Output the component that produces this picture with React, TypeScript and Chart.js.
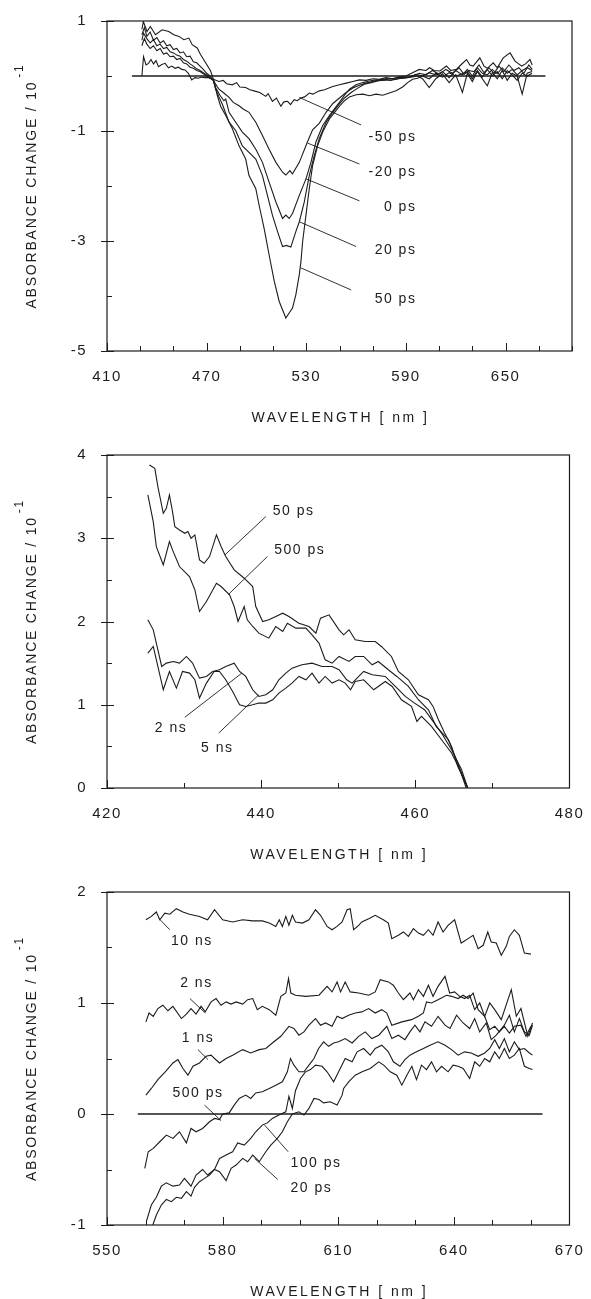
import React, { useEffect, useRef } from "react";
import { Chart, registerables } from "chart.js";

Chart.register(...registerables);

type Pt = [number, number];

// ---------------- Panel 1 : 410-690 nm, absorbance change / 10^-1 ----------------
const P1_X_LABELS = [410, 470, 530, 590, 650];
const P1_Y_LABELS = [1, -1, -3, -5];
const P1_BASELINE: Pt[] = [[425, 0], [674, 0]];

const P1_50PS: Pt[] = [
  [431, 0.85], [431.9, 0.99], [434.1, 0.81], [436.1, 0.9], [439.2, 0.75], [443.2, 0.84], [447.2, 0.81], [450.2, 0.75],
  [453.3, 0.72], [456.3, 0.66], [459.3, 0.69], [461.3, 0.57], [464.3, 0.51], [466.3, 0.39], [469.4, 0.24], [472.4, 0.09],
  [474.4, -0.09], [476.4, -0.35], [478.4, -0.55], [481.5, -0.72], [485.5, -0.96], [489.5, -1.27], [493.5, -1.51],
  [495.5, -1.81], [499.6, -2.05], [501.6, -2.35], [504.6, -2.77], [507.6, -3.25], [510.7, -3.73], [513.7, -4.1],
  [515.7, -4.25], [517.7, -4.4], [519.7, -4.31], [521.7, -4.22], [523.7, -3.98], [525.8, -3.61], [526.8, -3.37],
  [527.8, -3.01], [529.8, -2.53], [531.8, -2.05], [533.8, -1.63], [536.8, -1.27], [539.9, -1.02], [543.9, -0.78],
  [547.9, -0.63], [550, -0.55], [553, -0.45], [556, -0.38], [560, -0.34], [564, -0.33], [568, -0.36], [572, -0.33],
  [576, -0.35], [580, -0.31], [584, -0.27], [588, -0.2], [591, -0.12], [594, -0.06], [597, -0.04], [600, 0.0],
  [604, -0.05], [608, 0.05], [612, -0.02], [616, 0.06], [620, 0.0], [624, 0.04], [627, 0.08], [630, -0.05],
  [633, 0.1], [636, -0.02], [639, 0.12], [642, 0.0], [645, 0.08], [648, -0.05], [651, 0.1], [654, 0.02],
  [657, -0.08], [660, 0.05], [663, 0.0], [666, 0.05],
];

const P1_20PS: Pt[] = [
  [431, 0.75], [432.5, 0.88], [434, 0.72], [436, 0.8], [438, 0.65], [440, 0.7], [442, 0.6], [444, 0.64], [446, 0.55],
  [448, 0.57], [450, 0.48], [452, 0.5], [454, 0.42], [456, 0.44], [458, 0.35], [460, 0.36], [462, 0.26], [464, 0.24],
  [466, 0.18], [468, 0.12], [470, 0.05], [472, 0.0], [474, -0.08], [475.4, -0.24], [477.4, -0.38], [479.4, -0.51],
  [483.5, -0.84], [487.5, -0.99], [491.5, -1.27], [495.5, -1.39], [499.6, -1.51], [503.6, -1.81], [506.6, -2.17],
  [509.6, -2.53], [512.7, -2.83], [515.7, -3.1], [518, -3.08], [520.7, -3.11], [523.7, -2.83], [525.8, -2.65],
  [528.8, -2.29], [531.8, -1.81], [534.8, -1.45], [537.8, -1.14], [541.9, -0.84], [545.9, -0.66], [549.9, -0.51],
  [553, -0.4], [557, -0.3], [561, -0.22], [565, -0.15], [569, -0.12], [573, -0.09], [577, -0.07], [581, -0.08],
  [585, -0.05], [589, -0.04], [593, -0.02], [597, 0.0], [600, -0.05], [604, -0.21], [608, -0.05], [612, 0.04],
  [616, -0.12], [620, 0.02], [624, -0.3], [627, 0.05], [630, -0.1], [633, 0.08], [636, -0.05], [639, -0.18],
  [642, 0.06], [645, -0.05], [648, 0.1], [651, -0.08], [654, 0.05], [657, 0.0], [660, -0.33], [663, 0.05], [666, 0.08],
];

const P1_0PS: Pt[] = [
  [431, 0.65], [432, 0.78], [434, 0.68], [436, 0.6], [438, 0.66], [440, 0.55], [442, 0.58], [444, 0.5], [446, 0.52],
  [448, 0.44], [450, 0.42], [452, 0.38], [454, 0.36], [456, 0.3], [458, 0.27], [460, 0.22], [462, 0.18], [464, 0.13],
  [466, 0.1], [468, 0.06], [470, 0.02], [472, -0.03], [474, -0.08], [475.4, -0.21], [478, -0.35], [480.4, -0.45],
  [481.5, -0.42], [483.5, -0.66], [487.5, -0.84], [491.5, -1.02], [495.5, -1.14], [499.6, -1.33], [503.6, -1.57],
  [507.6, -1.93], [511.7, -2.29], [515.7, -2.59], [517.7, -2.53], [519.7, -2.59], [521.7, -2.5], [525.8, -2.17],
  [529.8, -1.87], [532.8, -1.57], [535.8, -1.2], [539.9, -0.9], [543.9, -0.72], [549.9, -0.48], [553, -0.35],
  [556, -0.24], [560, -0.16], [564, -0.12], [568, -0.09], [572, -0.07], [576, -0.08], [580, -0.05], [584, -0.06],
  [588, -0.03], [592, -0.02], [596, 0.03], [600, 0.0], [604, 0.06], [608, 0.02], [612, 0.08], [616, -0.03],
  [620, 0.1], [624, 0.02], [627, 0.12], [630, 0.0], [633, 0.15], [636, 0.05], [639, 0.02], [642, 0.12], [645, 0.04],
  [648, 0.15], [651, 0.05], [654, 0.12], [657, 0.02], [660, 0.1], [663, 0.15], [666, 0.1],
];

const P1_M20PS: Pt[] = [
  [431, 0.55], [432.5, 0.68], [434, 0.58], [436, 0.5], [438, 0.55], [440, 0.46], [442, 0.5], [444, 0.4], [446, 0.42],
  [448, 0.35], [450, 0.36], [452, 0.3], [454, 0.32], [456, 0.24], [458, 0.22], [460, 0.16], [462, 0.14], [464, 0.1],
  [466, 0.08], [468, 0.04], [470, 0.0], [472, -0.04], [474, -0.08], [477.4, -0.24], [480, -0.3], [483.5, -0.39],
  [486, -0.48], [489.5, -0.54], [492, -0.6], [495.5, -0.66], [499.6, -0.84], [503.6, -1.08], [507.6, -1.33],
  [511.7, -1.57], [515.7, -1.75], [517.7, -1.8], [520.1, -1.72], [521.7, -1.78], [525.8, -1.57], [530.8, -1.19],
  [533.8, -0.98], [537.8, -0.86], [541.9, -0.66], [546, -0.5], [550, -0.4], [554, -0.3], [558, -0.22], [562, -0.17],
  [566, -0.13], [570, -0.1], [574, -0.07], [578, -0.05], [582, -0.05], [586, -0.02], [590, -0.03], [594, 0.0],
  [598, 0.05], [602, 0.02], [606, 0.1], [610, 0.03], [614, 0.12], [618, 0.05], [622, 0.15], [625, 0.03], [628, 0.1],
  [631, 0.08], [634, 0.2], [637, 0.06], [640, 0.15], [643, 0.05], [646, 0.18], [649, 0.08], [652, 0.2], [655, 0.1],
  [658, 0.15], [661, 0.05], [664, 0.2], [666, 0.12],
];

const P1_M50PS: Pt[] = [
  [431, 0.0], [432, 0.35], [433.5, 0.2], [435, 0.23], [436.5, 0.3], [438, 0.22], [439.5, 0.28], [441, 0.17],
  [443, 0.21], [445, 0.23], [447, 0.15], [449, 0.18], [451, 0.14], [453, 0.16], [455, 0.12], [457, 0.11], [459, 0.05],
  [461, -0.07], [463, -0.03], [465, -0.04], [467, -0.02], [469, -0.03], [471.4, -0.03], [474, -0.06], [477.4, -0.1],
  [480, -0.08], [482, -0.14], [485.5, -0.16], [488, -0.12], [490, -0.2], [493.5, -0.21], [496, -0.25], [499.6, -0.28],
  [502, -0.3], [505.6, -0.37], [507, -0.32], [509.6, -0.46], [512, -0.4], [514.7, -0.55], [516.5, -0.47],
  [518.7, -0.46], [520.5, -0.52], [522.7, -0.43], [524.5, -0.45], [526.8, -0.4], [529, -0.38], [531.8, -0.31],
  [534, -0.33], [537.8, -0.27], [541, -0.25], [545.9, -0.19], [550, -0.16], [554, -0.13], [558, -0.1], [562, -0.07],
  [566, -0.08], [570, -0.05], [574, -0.06], [578, -0.03], [582, -0.05], [586, -0.02], [590, 0.0], [594, 0.06],
  [598, 0.12], [602, 0.1], [604.3, 0.15], [607, 0.1], [610.4, 0.09], [614.4, 0.18], [617, 0.1], [620.4, 0.12],
  [623, 0.2], [626.5, 0.3], [628.5, 0.2], [630.5, 0.18], [634.5, 0.33], [637, 0.18], [639, 0.14], [642.6, 0.24],
  [645, 0.15], [648.6, 0.33], [652.7, 0.42], [655.7, 0.27], [659.7, 0.18], [662, 0.22], [664.7, 0.3], [666, 0.2],
];

// ---------------- Panel 2 : 420-480 nm ----------------
const P2_X_LABELS = [420, 440, 460, 480];
const P2_Y_LABELS = [0, 1, 2, 3, 4];

const P2_50PS: Pt[] = [
  [425.5, 3.88], [426.2, 3.84], [426.6, 3.62], [427.3, 3.3], [427.7, 3.36], [428.1, 3.52], [428.5, 3.32], [428.8, 3.14],
  [429.4, 3.1], [430.1, 3.06], [430.5, 3.08], [430.9, 3.0], [431.4, 3.04], [432.0, 2.74], [432.6, 2.7], [433.3, 2.78],
  [434.2, 3.04], [434.8, 2.9], [435.4, 2.78], [436.5, 2.62], [437.8, 2.52], [438.9, 2.42], [439.3, 2.18], [440.2, 2.0],
  [441.0, 2.02], [441.9, 2.06], [442.8, 2.1], [443.6, 2.06], [444.9, 1.98], [446.2, 1.94], [447.1, 1.86], [447.7, 2.04],
  [448.8, 2.08], [450.1, 1.9], [450.7, 1.84], [451.4, 1.9], [452.2, 1.78], [453.5, 1.76], [454.8, 1.76], [455.6, 1.7],
  [456.9, 1.58], [457.8, 1.4], [459.1, 1.3], [460.4, 1.12], [461.7, 1.06], [462.3, 0.98], [463.0, 0.82], [463.8, 0.66],
  [464.7, 0.5], [465.5, 0.26], [466.8, 0.0],
];

const P2_500PS: Pt[] = [
  [425.3, 3.52], [426.0, 3.2], [426.4, 2.9], [427.3, 2.68], [428.1, 2.96], [428.5, 2.86], [429.4, 2.66], [430.7, 2.54],
  [431.4, 2.38], [432.0, 2.12], [432.9, 2.24], [434.2, 2.46], [434.8, 2.42], [435.9, 2.32], [436.5, 2.18], [437.0, 2.0],
  [437.8, 2.18], [438.2, 2.02], [438.9, 1.94], [439.7, 1.86], [441.0, 1.8], [441.9, 1.94], [442.8, 1.88], [443.4, 1.98],
  [444.5, 1.92], [445.8, 1.92], [446.6, 1.84], [447.5, 1.74], [448.3, 1.54], [449.2, 1.5], [450.1, 1.58], [451.4, 1.52],
  [452.2, 1.58], [453.3, 1.58], [454.4, 1.48], [455.2, 1.52], [456.5, 1.42], [457.6, 1.34], [459.1, 1.22],
  [460.4, 1.06], [461.7, 0.94], [462.7, 0.74], [464.3, 0.58], [465.5, 0.3], [466.6, 0.0],
];

const P2_2NS: Pt[] = [
  [425.3, 2.02], [426.0, 1.9], [426.6, 1.66], [427.1, 1.46], [427.7, 1.5], [428.6, 1.52], [429.4, 1.5], [430.3, 1.58],
  [431.1, 1.5], [432.0, 1.32], [432.9, 1.34], [433.7, 1.4], [434.6, 1.42], [435.4, 1.46], [436.5, 1.5], [437.2, 1.4],
  [438.0, 1.34], [438.9, 1.18], [439.7, 1.1], [440.6, 1.12], [441.5, 1.18], [442.3, 1.3], [443.2, 1.38], [444.0, 1.44],
  [445.3, 1.48], [446.6, 1.5], [447.9, 1.46], [449.2, 1.46], [450.1, 1.42], [451.1, 1.3], [451.8, 1.26], [453.3, 1.4],
  [454.4, 1.36], [456.1, 1.34], [457.4, 1.22], [458.7, 1.1], [459.9, 1.02], [461.2, 0.94], [462.3, 0.8], [463.4, 0.66],
  [464.7, 0.46], [466.0, 0.22], [466.8, 0.0],
];

const P2_5NS: Pt[] = [
  [425.3, 1.62], [426.0, 1.7], [426.6, 1.46], [427.3, 1.18], [428.1, 1.4], [429.0, 1.2], [429.8, 1.4], [430.7, 1.38],
  [431.4, 1.3], [432.0, 1.08], [432.9, 1.26], [433.9, 1.4], [434.6, 1.4], [435.4, 1.3], [436.3, 1.16], [437.2, 1.0],
  [438.0, 0.98], [438.9, 1.0], [439.7, 1.02], [440.6, 1.02], [441.5, 1.06], [442.3, 1.14], [443.2, 1.2], [444.0, 1.26],
  [444.9, 1.34], [445.8, 1.3], [446.6, 1.38], [447.5, 1.26], [448.3, 1.34], [449.2, 1.26], [450.1, 1.3], [450.9, 1.26],
  [451.6, 1.18], [452.2, 1.28], [453.3, 1.3], [454.6, 1.18], [456.1, 1.28], [457.0, 1.22], [458.2, 1.06], [459.5, 0.98],
  [460.2, 0.8], [460.8, 0.86], [462.1, 0.74], [463.4, 0.58], [464.7, 0.42], [466.0, 0.18], [466.8, 0.0],
];

// ---------------- Panel 3 : 550-670 nm ----------------
const P3_X_LABELS = [550, 580, 610, 640, 670];
const P3_Y_LABELS = [2, 1, 0, -1];
const P3_BASELINE: Pt[] = [[558, 0], [663, 0]];

const P3_10NS: Pt[] = [
  [560.1, 1.75], [561.5, 1.78], [562.8, 1.82], [563.7, 1.75], [565.0, 1.81], [566.3, 1.8], [568.0, 1.85], [569.7, 1.82],
  [571.4, 1.8], [574.0, 1.78], [576.1, 1.75], [577.9, 1.84], [580.0, 1.75], [582.6, 1.73], [585.2, 1.75], [587.8, 1.74],
  [590.3, 1.74], [592.1, 1.72], [593.8, 1.69], [594.7, 1.75], [595.5, 1.69], [596.4, 1.78], [597.2, 1.7], [598.1, 1.79],
  [598.9, 1.73], [600.7, 1.72], [602.4, 1.75], [604.1, 1.84], [605.4, 1.79], [607.1, 1.69], [608.4, 1.66], [609.7, 1.69],
  [611.0, 1.73], [612.3, 1.84], [613.1, 1.85], [614.0, 1.66], [615.3, 1.7], [616.1, 1.73], [617.9, 1.76], [619.6, 1.79],
  [621.7, 1.75], [623.0, 1.72], [623.9, 1.58], [625.6, 1.61], [626.9, 1.64], [628.2, 1.6], [629.5, 1.67], [630.8, 1.63],
  [632.1, 1.61], [633.4, 1.66], [634.6, 1.61], [635.9, 1.73], [637.2, 1.64], [638.5, 1.7], [640.2, 1.75], [641.9, 1.54],
  [643.7, 1.58], [645.0, 1.61], [646.3, 1.49], [647.6, 1.52], [648.8, 1.64], [649.7, 1.55], [651.0, 1.54], [652.3, 1.43],
  [653.6, 1.51], [654.4, 1.6], [655.7, 1.66], [657.0, 1.61], [658.3, 1.45], [660.0, 1.44],
];

const P3_2NS: Pt[] = [
  [560.1, 0.83], [560.9, 0.91], [562.0, 0.88], [563.2, 0.95], [564.5, 0.98], [565.8, 0.93], [567.1, 0.97], [569.3, 0.86],
  [570.6, 0.9], [571.8, 0.95], [573.1, 0.9], [574.4, 0.97], [575.5, 0.92], [577.0, 1.01], [578.3, 1.04], [579.6, 0.98],
  [580.9, 1.01], [582.2, 0.99], [583.5, 1.01], [585.2, 0.99], [586.5, 1.03], [587.8, 1.04], [589.0, 0.94], [590.3, 0.97],
  [592.1, 0.94], [593.8, 0.89], [595.1, 1.06], [596.4, 1.09], [597.1, 1.22], [597.7, 1.09], [598.9, 1.07], [601.5, 1.06],
  [605.0, 1.07], [607.1, 1.15], [608.4, 1.1], [609.7, 1.19], [610.6, 1.1], [611.8, 1.19], [613.1, 1.1], [615.3, 1.09],
  [617.9, 1.07], [619.6, 1.1], [620.9, 1.21], [623.0, 1.19], [624.3, 1.16], [625.6, 1.09], [626.9, 1.03], [628.6, 1.09],
  [629.5, 1.03], [630.8, 1.12], [632.1, 1.06], [633.4, 1.16], [634.6, 1.06], [635.9, 1.15], [637.7, 1.24], [638.9, 1.09],
  [640.2, 1.1], [641.5, 1.06], [642.8, 1.04], [644.1, 1.07], [645.4, 0.94], [646.7, 1.0], [648.0, 0.88], [649.3, 1.0],
  [650.6, 0.94], [652.3, 0.85], [654.9, 1.12], [656.2, 0.88], [657.4, 0.95], [659.2, 0.7], [660.4, 0.82],
];

const P3_1NS: Pt[] = [
  [560.1, 0.17], [561.5, 0.23], [563.2, 0.31], [565.4, 0.39], [567.1, 0.46], [568.4, 0.49], [569.7, 0.41], [571.0, 0.35],
  [572.3, 0.43], [574.0, 0.46], [575.7, 0.52], [577.0, 0.53], [577.9, 0.5], [579.2, 0.46], [580.9, 0.5], [582.6, 0.53],
  [585.2, 0.58], [587.3, 0.55], [589.5, 0.58], [591.2, 0.59], [592.9, 0.64], [595.1, 0.7], [597.2, 0.79], [598.5, 0.77],
  [599.8, 0.71], [601.1, 0.74], [602.4, 0.8], [604.1, 0.86], [605.4, 0.8], [606.7, 0.82], [608.4, 0.79], [609.7, 0.88],
  [611.0, 0.86], [612.7, 0.89], [614.4, 0.91], [616.1, 0.92], [617.9, 0.95], [619.6, 0.91], [621.3, 0.94], [622.6, 0.91],
  [623.9, 0.8], [626.5, 0.83], [629.0, 0.85], [630.8, 0.88], [632.1, 0.91], [632.9, 1.01], [634.2, 1.0], [635.9, 1.03],
  [638.1, 1.07], [639.4, 1.06], [641.1, 1.04], [642.4, 1.07], [643.7, 1.04], [645.0, 1.09], [646.3, 0.94], [648.0, 0.88],
  [649.3, 0.76], [650.6, 0.79], [651.8, 0.74], [653.1, 0.79], [654.4, 0.73], [655.7, 0.79], [657.4, 0.8], [658.7, 0.7],
  [660.0, 0.79],
];

const P3_500PS: Pt[] = [
  [559.8, -0.49], [560.7, -0.34], [562.0, -0.31], [563.7, -0.25], [565.4, -0.19], [567.1, -0.22], [568.8, -0.16],
  [570.6, -0.26], [571.8, -0.13], [573.1, -0.16], [574.8, -0.13], [576.6, -0.07], [577.9, -0.04], [579.2, -0.05],
  [580.0, 0.0], [581.7, 0.01], [583.0, 0.08], [584.3, 0.14], [586.0, 0.17], [587.3, 0.14], [588.6, 0.19], [590.3, 0.2],
  [592.1, 0.23], [593.8, 0.26], [595.5, 0.29], [596.8, 0.38], [597.6, 0.5], [598.5, 0.44], [599.8, 0.38], [601.1, 0.38],
  [602.4, 0.44], [603.7, 0.5], [604.9, 0.59], [606.2, 0.65], [607.5, 0.61], [608.8, 0.64], [610.1, 0.65], [611.8, 0.68],
  [613.6, 0.64], [615.3, 0.7], [617.0, 0.74], [618.7, 0.68], [620.5, 0.71], [622.6, 0.79], [623.9, 0.68], [625.6, 0.71],
  [627.3, 0.67], [628.6, 0.74], [629.9, 0.8], [631.2, 0.74], [632.5, 0.83], [634.2, 0.79], [635.9, 0.88], [637.7, 0.8],
  [639.0, 0.77], [640.7, 0.89], [642.4, 0.82], [644.1, 0.77], [645.4, 0.86], [646.7, 0.74], [648.4, 0.82], [649.7, 0.67],
  [651.0, 0.71], [653.1, 0.8], [654.4, 0.89], [655.7, 0.74], [657.0, 0.86], [658.3, 0.74], [659.6, 0.71], [660.4, 0.8],
];

const P3_100PS: Pt[] = [
  [560.2, -0.97], [561.5, -0.82], [562.8, -0.75], [564.1, -0.65], [565.4, -0.62], [567.1, -0.65], [568.8, -0.64],
  [570.1, -0.58], [571.8, -0.65], [573.1, -0.55], [574.8, -0.5], [576.1, -0.55], [577.9, -0.5], [579.2, -0.4],
  [580.9, -0.37], [582.6, -0.34], [583.9, -0.26], [585.6, -0.28], [587.3, -0.22], [588.6, -0.16], [590.3, -0.1],
  [591.6, -0.08], [592.9, -0.04], [594.6, -0.01], [596.4, 0.02], [597.2, 0.16], [598.1, 0.05], [598.9, 0.21],
  [600.2, 0.32], [601.5, 0.38], [602.8, 0.4], [604.1, 0.44], [605.8, 0.43], [607.1, 0.38], [608.8, 0.29], [610.1, 0.38],
  [611.8, 0.5], [613.6, 0.47], [614.9, 0.56], [616.6, 0.59], [618.3, 0.53], [619.6, 0.59], [621.3, 0.62], [623.0, 0.56],
  [624.3, 0.47], [626.0, 0.43], [627.3, 0.49], [628.6, 0.53], [630.3, 0.56], [632.1, 0.59], [633.8, 0.62], [635.9, 0.65],
  [637.7, 0.62], [639.4, 0.58], [641.1, 0.53], [642.8, 0.56], [644.5, 0.55], [646.3, 0.52], [648.0, 0.55], [649.3, 0.59],
  [650.6, 0.67], [651.8, 0.59], [653.1, 0.68], [654.4, 0.56], [655.7, 0.65], [657.0, 0.58], [658.3, 0.59], [659.6, 0.55],
  [660.4, 0.53],
];

const P3_20PS: Pt[] = [
  [561.9, -1.0], [562.8, -0.91], [564.1, -0.82], [565.4, -0.77], [566.7, -0.79], [568.0, -0.75], [569.3, -0.76],
  [570.6, -0.7], [571.8, -0.74], [572.7, -0.66], [574.0, -0.61], [575.3, -0.58], [576.6, -0.55], [577.9, -0.5],
  [579.2, -0.52], [580.9, -0.6], [582.2, -0.49], [583.5, -0.46], [585.2, -0.4], [586.5, -0.43], [587.8, -0.37],
  [589.5, -0.43], [591.2, -0.34], [592.5, -0.28], [594.2, -0.22], [595.5, -0.16], [596.8, -0.07], [598.1, 0.0],
  [599.8, 0.02], [601.1, -0.01], [602.4, 0.05], [603.7, 0.14], [605.0, 0.13], [606.2, 0.1], [607.9, 0.11], [609.7, 0.08],
  [611.0, 0.17], [611.4, 0.23], [612.7, 0.29], [614.4, 0.35], [616.2, 0.38], [618.3, 0.41], [620.5, 0.47], [621.8, 0.44],
  [623.5, 0.38], [625.2, 0.35], [626.5, 0.26], [627.8, 0.35], [629.1, 0.43], [630.3, 0.31], [631.6, 0.44], [632.9, 0.4],
  [634.2, 0.47], [635.5, 0.38], [636.8, 0.43], [638.5, 0.38], [639.8, 0.44], [641.1, 0.43], [642.4, 0.41], [644.1, 0.32],
  [645.4, 0.47], [646.7, 0.43], [648.0, 0.5], [649.3, 0.47], [650.6, 0.56], [651.8, 0.5], [653.1, 0.59], [654.4, 0.5],
  [655.7, 0.53], [657.0, 0.59], [658.3, 0.43], [659.6, 0.41], [660.4, 0.4],
];

// ---------------- curve annotations (data units) ----------------
interface Note { text: string; at: Pt; align: CanvasTextAlign; from: Pt; to: Pt }

const P1_NOTES: Note[] = [
  { text: "-50 ps", at: [596.3, -1.11], align: "right", from: [525.8, -0.39], to: [563.0, -0.89] },
  { text: "-20 ps", at: [596.3, -1.75], align: "right", from: [530.8, -1.22], to: [562.0, -1.6] },
  { text: "0 ps", at: [596.3, -2.39], align: "right", from: [529.8, -1.87], to: [562.0, -2.27] },
  { text: "20 ps", at: [596.3, -3.16], align: "right", from: [525.8, -2.65], to: [560.0, -3.1] },
  { text: "50 ps", at: [596.3, -4.05], align: "right", from: [526.8, -3.49], to: [557.0, -3.89] },
];
const P2_NOTES: Note[] = [
  { text: "50 ps", at: [441.5, 3.32], align: "left", from: [435.3, 2.8], to: [440.6, 3.26] },
  { text: "500 ps", at: [441.7, 2.86], align: "left", from: [435.7, 2.32], to: [440.8, 2.78] },
  { text: "2 ns", at: [426.2, 0.72], align: "left", from: [437.5, 1.38], to: [430.1, 0.85] },
  { text: "5 ns", at: [432.2, 0.48], align: "left", from: [439.7, 1.12], to: [434.5, 0.66] },
];
const P3_NOTES: Note[] = [
  { text: "10 ns", at: [572.0, 1.56], align: "center", from: [563.5, 1.76], to: [566.3, 1.66] },
  { text: "2 ns", at: [573.2, 1.18], align: "center", from: [575.5, 0.91], to: [571.5, 1.04] },
  { text: "1 ns", at: [573.6, 0.68], align: "center", from: [576.2, 0.49], to: [573.6, 0.58] },
  { text: "500 ps", at: [573.6, 0.19], align: "center", from: [579.6, -0.06], to: [575.3, 0.08] },
  { text: "100 ps", at: [597.6, -0.44], align: "left", from: [590.9, -0.1], to: [597.0, -0.34] },
  { text: "20 ps", at: [597.6, -0.67], align: "left", from: [588.3, -0.4], to: [594.3, -0.59] },
];

const X_TITLE = "WAVELENGTH [ nm ]";
const Y_TITLE = "ABSORBANCE CHANGE / 10";
const Y_TITLE_SUP = "-1";

// ---------------- styling / layout ----------------
const INK = "#1c1c1c";
const W = 591;
const H = 433;
const PLOT_LEFT = 107;
const PLOT_RIGHT = 572;
const FONT = '"Liberation Sans", Arial, sans-serif';

interface Panel {
  series: Pt[][];
  baseline?: Pt[];
  xMin: number; xMax: number; xStep: number; xLabels: number[];
  yMin: number; yMax: number; yStep: number; yLabels: number[];
  top: number; bottom: number;
  notes: Note[];
}

const PANELS: Panel[] = [
  {
    series: [P1_50PS, P1_20PS, P1_0PS, P1_M20PS, P1_M50PS], baseline: P1_BASELINE,
    xMin: 410, xMax: 690, xStep: 20, xLabels: P1_X_LABELS,
    yMin: -5, yMax: 1, yStep: 1, yLabels: P1_Y_LABELS,
    top: 19, bottom: 351, notes: P1_NOTES,
  },
  {
    series: [P2_50PS, P2_500PS, P2_2NS, P2_5NS],
    xMin: 420, xMax: 480, xStep: 10, xLabels: P2_X_LABELS,
    yMin: 0, yMax: 4, yStep: 0.5, yLabels: P2_Y_LABELS,
    top: 22, bottom: 355, notes: P2_NOTES,
  },
  {
    series: [P3_10NS, P3_2NS, P3_1NS, P3_500PS, P3_100PS, P3_20PS], baseline: P3_BASELINE,
    xMin: 550, xMax: 670, xStep: 10, xLabels: P3_X_LABELS,
    yMin: -1, yMax: 2, yStep: 0.5, yLabels: P3_Y_LABELS,
    top: 26, bottom: 359, notes: P3_NOTES,
  },
];

const isIn = (list: number[], v: number) => list.some((l) => Math.abs(l - v) < 1e-6);

function makeDecor(p: Panel) {
  return {
    id: "decor",
    beforeDraw(chart: any) {
      (chart.ctx as any).letterSpacing = "1.5px";
    },
    afterDatasetsDraw(chart: any) {
      const { ctx, chartArea: a, scales } = chart;
      const xs = scales.x;
      const ys = scales.y;
      ctx.save();
      ctx.strokeStyle = INK;
      ctx.fillStyle = INK;
      ctx.lineWidth = 1.2;
      ctx.strokeRect(a.left, a.top, a.right - a.left, a.bottom - a.top);
      ctx.lineWidth = 1;
      ctx.beginPath();
      xs.ticks.forEach((t: any) => {
        const px = Math.round(xs.getPixelForValue(t.value)) + 0.5;
        const len = isIn(p.xLabels, t.value) ? 8 : 5;
        ctx.moveTo(px, a.bottom);
        ctx.lineTo(px, a.bottom - len);
      });
      ys.ticks.forEach((t: any) => {
        const py = Math.round(ys.getPixelForValue(t.value)) + 0.5;
        if (isIn(p.yLabels, t.value)) {
          ctx.moveTo(a.left - 6, py);
          ctx.lineTo(a.left + 7, py);
        } else {
          ctx.moveTo(a.left, py);
          ctx.lineTo(a.left + 5, py);
        }
      });
      ctx.stroke();
      // leader lines
      ctx.lineWidth = 0.9;
      ctx.beginPath();
      p.notes.forEach((n) => {
        ctx.moveTo(xs.getPixelForValue(n.from[0]), ys.getPixelForValue(n.from[1]));
        ctx.lineTo(xs.getPixelForValue(n.to[0]), ys.getPixelForValue(n.to[1]));
      });
      ctx.stroke();
      // note texts
      ctx.font = `14px ${FONT}`;
      (ctx as any).letterSpacing = "1.5px";
      ctx.textBaseline = "middle";
      p.notes.forEach((n) => {
        ctx.textAlign = n.align;
        ctx.fillText(n.text, xs.getPixelForValue(n.at[0]), ys.getPixelForValue(n.at[1]));
      });
      // x title
      ctx.font = `14px ${FONT}`;
      (ctx as any).letterSpacing = "2.5px";
      ctx.textAlign = "center";
      ctx.fillText(X_TITLE, (a.left + a.right) / 2 + 1, a.bottom + 67);
      // y title (rotated, with superscript)
      (ctx as any).letterSpacing = "1.8px";
      ctx.font = `14px ${FONT}`;
      const wMain = ctx.measureText(Y_TITLE).width;
      ctx.font = `12px ${FONT}`;
      const wSup = ctx.measureText(Y_TITLE_SUP).width;
      const total = wMain + 3 + wSup;
      ctx.translate(32, (a.top + a.bottom) / 2);
      ctx.rotate(-Math.PI / 2);
      ctx.textAlign = "left";
      ctx.font = `14px ${FONT}`;
      ctx.fillText(Y_TITLE, -total / 2, 0);
      ctx.font = `12px ${FONT}`;
      ctx.fillText(Y_TITLE_SUP, -total / 2 + wMain + 3, -12);
      ctx.restore();
    },
  };
}

function PanelChart({ p }: { p: Panel }) {
  const ref = useRef<HTMLCanvasElement | null>(null);
  useEffect(() => {
    if (!ref.current) return;
    const datasets: any[] = p.series.map((s) => ({
      data: s.map(([x, y]) => ({ x, y })),
      borderColor: INK,
      borderWidth: 1.1,
      pointRadius: 0,
      tension: 0,
      fill: false,
    }));
    if (p.baseline) {
      datasets.push({
        data: p.baseline.map(([x, y]) => ({ x, y })),
        borderColor: INK,
        borderWidth: 1.3,
        pointRadius: 0,
        fill: false,
      });
    }
    const chart = new Chart(ref.current, {
      type: "line",
      data: { datasets },
      options: {
        animation: false,
        responsive: false,
        devicePixelRatio: 1,
        layout: { padding: { top: p.top, right: W - PLOT_RIGHT, left: 0, bottom: 0 } },
        plugins: { legend: { display: false }, tooltip: { enabled: false } },
        events: [],
        scales: {
          x: {
            type: "linear",
            min: p.xMin,
            max: p.xMax,
            grid: { display: false },
            border: { display: false },
            afterFit: (s: any) => { s.height = H - p.bottom; },
            ticks: {
              stepSize: p.xStep,
              autoSkip: false,
              maxRotation: 0,
              padding: 9,
              color: INK,
              font: { family: FONT, size: 15 },
              callback: (v: any) => (isIn(p.xLabels, Number(v)) ? String(v) : ""),
            },
          },
          y: {
            type: "linear",
            min: p.yMin,
            max: p.yMax,
            grid: { display: false },
            border: { display: false },
            afterFit: (s: any) => { s.width = PLOT_LEFT; },
            ticks: {
              stepSize: p.yStep,
              autoSkip: false,
              padding: 12,
              color: INK,
              font: { family: FONT, size: 15 },
              callback: (v: any) => (isIn(p.yLabels, Number(v)) ? String(v) : ""),
            },
          },
        },
      } as any,
      plugins: [makeDecor(p)],
    });
    return () => chart.destroy();
  }, [p]);
  return <canvas ref={ref} width={W} height={H} style={{ display: "block", width: W, height: H }} />;
}

export default function App() {
  return (
    <div style={{ position: "absolute", left: 0, top: 0, width: W, height: 3 * H, background: "#fff" }}>
      {PANELS.map((p, i) => (
        <PanelChart key={i} p={p} />
      ))}
    </div>
  );
}
